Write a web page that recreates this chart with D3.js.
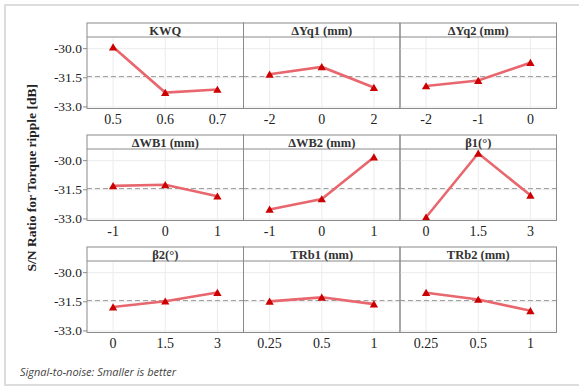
<!DOCTYPE html>
<html>
<head>
	<meta charset="utf-8">
	<style>
		body { margin: 0; background: #fff; }
	</style>
</head>
<body>

	<div id="graph"></div>

	<script src="https://cdn.jsdelivr.net/npm/d3@7/dist/d3.min.js"></script>

	<script>
		// factor names and levels, in panel order (row by row)
		const factors = ['KWQ', 'ΔYq1 (mm)', 'ΔYq2 (mm)', 'ΔWB1 (mm)', 'ΔWB2 (mm)', 'β1(°)', 'β2(°)', 'TRb1 (mm)', 'TRb2 (mm)'];
		const levels = [
			['0.5', '0.6', '0.7'],
			['-2', '0', '2'],
			['-2', '-1', '0'],
			['-1', '0', '1'],
			['-1', '0', '1'],
			['0', '1.5', '3'],
			['0', '1.5', '3'],
			['0.25', '0.5', '1'],
			['0.25', '0.5', '1']
		];
		// mean S/N ratio per level, dB
		const snMeans = [
			[-29.92, -32.26, -32.10],
			[-31.32, -30.94, -32.00],
			[-31.92, -31.64, -30.72],
			[-31.30, -31.24, -31.83],
			[-32.51, -31.97, -29.82],
			[-32.91, -29.62, -31.78],
			[-31.77, -31.47, -31.02],
			[-31.48, -31.27, -31.62],
			[-31.03, -31.38, -31.96]
		];
		const yTicks = [-30.0, -31.5, -33.0];

		const W = 579, H = 387;
		const marginLeft = 87, marginTop = 23;
		const panelW = 156.5, panelH = 85.5, rowStep = 112, stripH = 14;
		const serif = "'Liberation Serif', 'Times New Roman', 'DejaVu Serif', serif";

		const svg = d3.select('#graph').append('svg')
			.attr('width', W).attr('height', H)
			.attr('font-family', serif);

		// outer frame
		svg.append('rect')
			.attr('x', 5).attr('y', 5).attr('width', 590).attr('height', 380)
			.attr('fill', 'none').attr('stroke', '#dcdcdc').attr('stroke-width', 2);

		const grandMean = d3.mean(snMeans.flat());

		const y = d3.scaleLinear().domain([-33.08, -29.40]).range([panelH - stripH, 0]);

		factors.forEach((name, i) => {
			const col = i % 3, row = Math.floor(i / 3);
			const g = svg.append('g')
				.attr('transform', `translate(${marginLeft + col * panelW}, ${marginTop + row * rowStep})`);
			const plot = g.append('g').attr('transform', `translate(0, ${stripH})`);

			const x = d3.scalePoint().domain(levels[i]).range([0, panelW]).padding(0.5);

			// grid
			plot.selectAll('.vg').data(levels[i]).join('line')
				.attr('x1', d => x(d)).attr('x2', d => x(d))
				.attr('y1', 0).attr('y2', panelH - stripH)
				.attr('stroke', '#ececec');
			plot.selectAll('.hg').data(yTicks).join('line')
				.attr('x1', 0).attr('x2', panelW)
				.attr('y1', d => y(d)).attr('y2', d => y(d))
				.attr('stroke', '#ececec');

			// reference line at overall mean
			plot.append('line')
				.attr('x1', 0).attr('x2', panelW)
				.attr('y1', y(grandMean)).attr('y2', y(grandMean))
				.attr('stroke', '#9a9a9a').attr('stroke-dasharray', '5,3');

			const pts = levels[i].map((l, k) => ({ l, v: snMeans[i][k] }));

			plot.append('path')
				.attr('d', d3.line().x(d => x(d.l)).y(d => y(d.v))(pts))
				.attr('fill', 'none')
				.attr('stroke', '#e8676e')
				.attr('stroke-width', 2.6);

			plot.selectAll('.pt').data(pts).join('path')
				.attr('transform', d => `translate(${x(d.l)}, ${y(d.v) + 1})`)
				.attr('d', d3.symbol(d3.symbolTriangle, 30))
				.attr('fill', '#cc0000');

			// frame + strip
			g.append('rect')
				.attr('width', panelW).attr('height', panelH)
				.attr('fill', 'none').attr('stroke', '#8a8a8a');
			g.append('line')
				.attr('x1', 0).attr('x2', panelW).attr('y1', stripH).attr('y2', stripH)
				.attr('stroke', '#8a8a8a');
			g.append('text')
				.attr('x', panelW / 2).attr('y', stripH / 2 + 4.5)
				.attr('text-anchor', 'middle')
				.attr('font-weight', 'bold').attr('font-size', 12.5)
				.attr('fill', '#333')
				.text(name);

			// x tick labels
			g.selectAll('.xl').data(levels[i]).join('text')
				.attr('x', d => x(d)).attr('y', panelH + 15)
				.attr('text-anchor', 'middle').attr('font-size', 14)
				.attr('fill', '#222')
				.text(d => d);

			// y axis on first column
			if (col === 0) {
				plot.selectAll('.yt').data(yTicks).join('line')
					.attr('x1', -4).attr('x2', 0)
					.attr('y1', d => y(d)).attr('y2', d => y(d))
					.attr('stroke', '#8a8a8a');
				plot.selectAll('.yl').data(yTicks).join('text')
					.attr('x', -5).attr('y', d => y(d) + 4.5)
					.attr('text-anchor', 'end').attr('font-size', 13.5)
					.attr('fill', '#222')
					.text(d => d3.format('.1f')(d).replace('−', '-'));
			}
		});

		svg.append('text')
			.attr('transform', `translate(36, ${marginTop + (2 * rowStep + panelH) / 2}) rotate(-90)`)
			.attr('text-anchor', 'middle')
			.attr('font-weight', 'bold').attr('font-size', 13.5)
			.attr('fill', '#222')
			.text('S/N Ratio for Torque ripple [dB]');

		svg.append('text')
			.attr('x', 20).attr('y', 376)
			.attr('font-family', "'Open Sans', 'Noto Sans', sans-serif")
			.attr('font-style', 'italic').attr('fill', '#444')
			.attr('font-size', 11)
			.text('Signal-to-noise: Smaller is better');
	</script>

</body>
</html>
